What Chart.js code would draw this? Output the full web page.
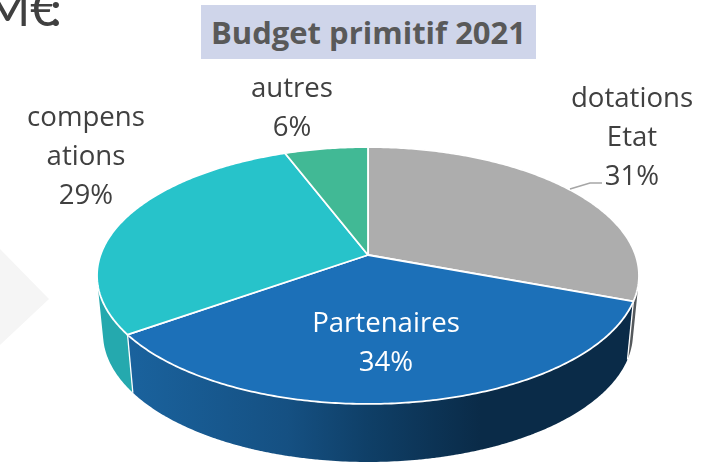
<!DOCTYPE html>
<html lang="fr">
<head>
<meta charset="utf-8">
<title>Budget primitif 2021</title>
<script src="https://cdn.jsdelivr.net/npm/chart.js@4"></script>
<style>
html,body{margin:0;padding:0;background:#fff;width:719px;height:462px;overflow:hidden}
#wrap{position:relative;width:719px;height:462px;overflow:hidden}
canvas{position:absolute;left:0;top:0}
#chev{position:absolute;left:0;top:249px;width:49px;height:96px;background:#f5f5f5;clip-path:polygon(0 0,100% 52%,0 100%)}
#unit{position:absolute;right:657px;top:-22px;font:400 49px/58px "Lato",sans-serif;color:#404040;white-space:nowrap}
#unit span{margin-left:-9px}
#title{position:absolute;left:201px;top:5px;width:335px;height:54px;background:#cfd5ea;color:#595959;font:700 31px/54px "Open Sans",sans-serif;text-align:center;white-space:nowrap}
</style>
</head>
<body>
<div id="wrap">
<div id="chev"></div>
<div id="unit">M€<span>:</span></div>
<div id="title">Budget primitif 2021</div>
<canvas id="c" width="719" height="462"></canvas>
</div>
<script>
const categories = ["dotations Etat", "Partenaires", "compensations", "autres"];
const shares = [30.7, 34.49, 29.01, 5.8];
const labelLines = [["dotations", "Etat", "31%"], ["Partenaires", "34%"], ["compens", "ations", "29%"], ["autres", "6%"]];

const topColors = ["#adadad", "#1c70b8", "#27c3ca", "#41b995"];
const wallColors = ["#55595c", null, "#25a9ae", "#2f8a70"];
const labelColors = ["#404040", "#ffffff", "#404040", "#404040"];
const labelAnchors = [[632, 107], [386, 332], [86, 126], [292, 97]];
const labelStep = 39;

const apex = {x: 368, y: 255}, radX = 267.5, radY = 125.2, persp = 0.1595, depth = 58, baseShrink = 0.978;

function project(theta, lower) {
  const w = 1 - persp * Math.sin(theta);
  const shrink = lower ? baseShrink : 1;
  return {
    x: apex.x + shrink * radX * Math.cos(theta) / w,
    y: apex.y + radY * Math.sin(theta) / w + (lower ? depth : 0)
  };
}
function trace(ctx, a, b) {
  const n = Math.max(8, Math.ceil(Math.abs(b - a) * 90));
  for (let i = 0; i <= n; i++) {
    const p = project(a + (b - a) * i / n, false);
    ctx.lineTo(p.x, p.y);
  }
}
function fillWall(ctx, a, b, style) {
  const n = Math.max(8, Math.ceil(Math.abs(b - a) * 90));
  const step = (b - a) / n;
  ctx.fillStyle = style;
  ctx.beginPath();
  for (let i = 0; i < n; i++) {
    const t0 = a + step * i, t1 = Math.min(b, a + step * (i + 1.2));
    let quad = [project(t0, false), project(t1, false), project(t1, true), project(t0, true)];
    let area = 0;
    quad.forEach((p, k) => { const q = quad[(k + 1) % 4]; area += p.x * q.y - q.x * p.y; });
    if (area < 0) quad = quad.reverse();
    quad.forEach((p, k) => k ? ctx.lineTo(p.x, p.y) : ctx.moveTo(p.x, p.y));
    ctx.closePath();
  }
  ctx.fill();
}
const pie3d = {
  id: "pie3d",
  beforeDatasetDraw(chart, args) {
    const ctx = chart.ctx, arcs = args.meta.data;
    const blue = ctx.createLinearGradient(131, 0, 480, 0);
    blue.addColorStop(0, "#1a629d");
    blue.addColorStop(0.45, "#155082");
    blue.addColorStop(0.68, "#0f3f67");
    blue.addColorStop(1, "#0a2b48");
    ctx.save();
    [0, 3, 2, 1].forEach(i => fillWall(ctx, arcs[i].startAngle, arcs[i].endAngle, wallColors[i] || blue));
    ctx.strokeStyle = "#ffffff";
    ctx.lineWidth = 1.3;
    [arcs[0].endAngle, arcs[1].endAngle].forEach(t => {
      const a = project(t, false), b = project(t, true);
      ctx.beginPath(); ctx.moveTo(a.x, a.y); ctx.lineTo(b.x, b.y); ctx.stroke();
    });
    ctx.lineJoin = "round";
    arcs.forEach((el, i) => {
      ctx.beginPath();
      ctx.moveTo(apex.x, apex.y);
      trace(ctx, el.startAngle, el.endAngle);
      ctx.closePath();
      ctx.fillStyle = topColors[i];
      ctx.fill();
      ctx.strokeStyle = "#ffffff";
      ctx.lineWidth = 1.8;
      ctx.stroke();
    });
    ctx.restore();
    return false;
  },
  afterDatasetsDraw(chart) {
    const ctx = chart.ctx;
    ctx.save();
    ctx.strokeStyle = "#a6a6a6";
    ctx.lineWidth = 1.5;
    ctx.beginPath(); ctx.moveTo(570, 189); ctx.lineTo(590, 183); ctx.lineTo(602, 183); ctx.stroke();
    ctx.font = '27.6px "Open Sans", sans-serif';
    ctx.textAlign = "center";
    ctx.textBaseline = "alphabetic";
    labelLines.forEach((lines, i) => {
      ctx.fillStyle = labelColors[i];
      lines.forEach((s, j) => ctx.fillText(s, labelAnchors[i][0], labelAnchors[i][1] + j * labelStep));
    });
    ctx.restore();
  }
};
new Chart(document.getElementById("c"), {
  type: "pie",
  data: {labels: categories, datasets: [{data: shares, backgroundColor: topColors, borderColor: "#ffffff"}]},
  options: {
    responsive: false,
    animation: false,
    events: [],
    plugins: {legend: {display: false}, tooltip: {enabled: false}}
  },
  plugins: [pie3d]
});
</script>
</body>
</html>
